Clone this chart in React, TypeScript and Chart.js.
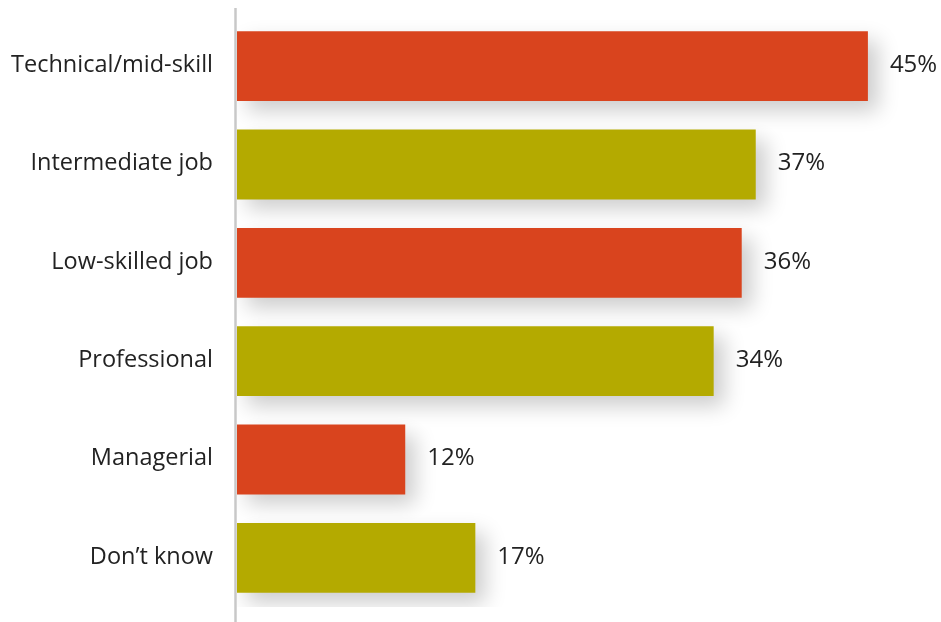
import React, { useEffect, useRef } from "react";
import { Chart, registerables } from "chart.js";

Chart.register(...registerables);

const categories = [
  "Technical/mid-skill",
  "Intermediate job",
  "Low-skilled job",
  "Professional",
  "Managerial",
  "Don\u2019t know",
];
const values = [45, 37, 36, 34, 12, 17];
const valueLabels = ["45%", "37%", "36%", "34%", "12%", "17%"];
const barColors = ["#D9441E", "#B4AA00", "#D9441E", "#B4AA00", "#D9441E", "#B4AA00"];

const FONT = "'Open Sans', 'Noto Sans', sans-serif";

export default function App() {
  const ref = useRef<HTMLCanvasElement | null>(null);

  useEffect(() => {
    if (!ref.current) return;

    const shadowPlugin = {
      id: "barShadow",
      beforeDatasetsDraw(chart: any) {
        const ctx = chart.ctx;
        ctx.save();
        ctx.shadowColor = "rgba(0,0,0,0.2)";
        ctx.shadowBlur = 20;
        ctx.shadowOffsetX = 10;
        ctx.shadowOffsetY = 10;
      },
      afterDatasetsDraw(chart: any) {
        const ctx = chart.ctx;
        ctx.restore();
        // axis line
        const x = chart.chartArea.left - 1.5;
        ctx.save();
        ctx.strokeStyle = "#c8c8c8";
        ctx.lineWidth = 2.5;
        ctx.beginPath();
        ctx.moveTo(x, 8);
        ctx.lineTo(x, chart.height);
        ctx.stroke();
        ctx.restore();
        const meta = chart.getDatasetMeta(0);
        ctx.save();
        ctx.fillStyle = "#222222";
        ctx.textBaseline = "middle";
        // category labels
        ctx.font = `23.5px ${FONT}`;
        ctx.textAlign = "right";
        meta.data.forEach((bar: any, i: number) => {
          ctx.fillText(categories[i], chart.chartArea.left - 24, bar.y - 1);
        });
        // value labels
        ctx.font = `24px ${FONT}`;
        ctx.textAlign = "left";
        meta.data.forEach((bar: any, i: number) => {
          ctx.fillText(valueLabels[i], bar.x + 22, bar.y - 1);
        });
        ctx.restore();
      },
    };

    const chart = new Chart(ref.current, {
      type: "bar",
      data: {
        labels: categories,
        datasets: [
          {
            data: values,
            backgroundColor: barColors,
            borderWidth: 0,
            barPercentage: 0.71,
            categoryPercentage: 1,
          },
        ],
      },
      options: {
        indexAxis: "y",
        animation: false,
        responsive: false,
        maintainAspectRatio: false,
        layout: { padding: { top: 17, bottom: 15, right: 3, left: 237 } },
        plugins: {
          legend: { display: false },
          tooltip: { enabled: false },
        },
        scales: {
          x: {
            display: false,
            min: 0,
            max: 50,
          },
          y: {
            display: false,
          },
        },
      },
      plugins: [shadowPlugin],
    });
    return () => chart.destroy();
  }, []);

  return (
    <div style={{ position: "fixed", left: 0, top: 0, width: 941, height: 622, background: "#fff" }}>
      <canvas ref={ref} width={941} height={622} style={{ display: "block", width: 941, height: 622 }} />
    </div>
  );
}
